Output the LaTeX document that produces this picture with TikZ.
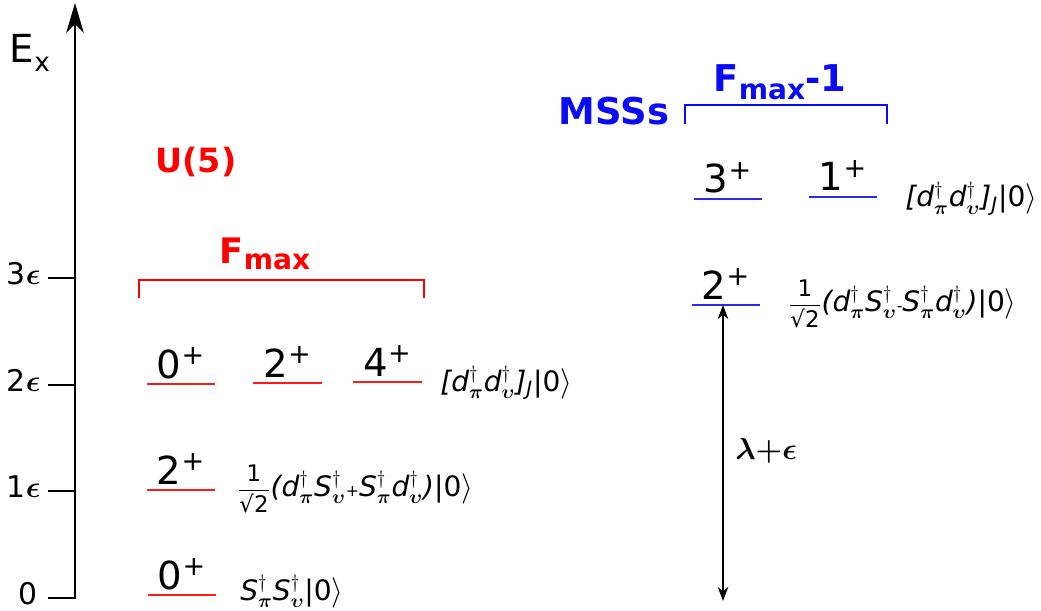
\documentclass[tikz,border=0pt]{standalone}
\usepackage{amsmath,amssymb}
\usepackage{fontspec}
\setmainfont{DejaVu Sans}
\usepackage{tikz}
\usetikzlibrary{arrows.meta,positioning}
\definecolor{lvlred}{HTML}{FF1A1A}
\definecolor{lvlblue}{HTML}{2A2AF0}
\definecolor{hdblue}{HTML}{0A0AF5}
\newcommand{\halfroot}{{\fontsize{13}{15}\selectfont\upshape$\dfrac{\text{1}}{\text{√2}}$}}

\begin{document}
\begin{tikzpicture}[x=0.02cm,y=-0.02cm,
  level/.style={line width=1.1pt},
  spin/.style={font=\fontsize{22}{26}\selectfont,inner sep=0pt,anchor=base},
  wave/.style={font=\fontsize{16}{19}\selectfont\itshape,inner sep=0pt,anchor=base west},
  ticklab/.style={font=\fontsize{17}{20}\selectfont,inner sep=0pt,anchor=base east},
  head/.style={font=\fontsize{20}{24}\selectfont\bfseries,inner sep=0pt,anchor=base}]
  \useasboundingbox (0,0) rectangle (1041,611);
  % energy axis with ticks
  \draw[-{Stealth[length=17pt,width=10pt,inset=5pt]},line width=0.9pt] (48,598) -- (75,598) -- (75,3);
  \foreach \yy/\lab/\nm in {491/1/t1,385/2/t2,278/3/t3}{\draw[line width=0.8pt] (48,\yy) -- (75,\yy); \node[ticklab] (\nm) at (41,\yy+6) {\lab$\boldsymbol{\epsilon}$};}
  \node[ticklab] (t0) at (38,604) {0};
  \node[font=\fontsize{22}{26}\selectfont,inner sep=0pt,anchor=base] (ex) at (30,63) {E\raisebox{-0.4ex}{\fontsize{15}{18}\selectfont x}};
  % U(5) levels
  \node[head,text=red,font=\fontsize{19}{23}\selectfont\bfseries] (u5) at (196,173) {U(5)};
  \node[head,text=red] (fmax) at (265,263) {F\raisebox{-0.35ex}{\fontsize{16}{19}\selectfont max}};
  \draw[red,line width=0.9pt] (139,298) |- (424,280) -- (424,298);
  \foreach \xa/\xb/\yy/\jj/\nm in {147/215/384/0/a0,253/322/383/2/a2,353/422/382/4/a4,147/215/490/2/b2,148/216/595/0/c0}{
    \draw[lvlred,level] (\xa,\yy) -- (\xb,\yy);
    \node[spin] (\nm) at ({(\xa+\xb)/2},\yy-6) {\jj\textsuperscript{+}};
  }
  \node[wave] (wa) at (440,391) {[d$^{\dagger}_{\boldsymbol{\pi}}$d$^{\dagger}_{\boldsymbol{\upsilon}}$]$_{\textit{J}}$\upshape|0$\rangle$};
  \node[wave] (wb) at (237,496) {\halfroot(d$^{\dagger}_{\boldsymbol{\pi}}$S$^{\dagger}_{\boldsymbol{\upsilon}}$\upshape{\small+}\itshape S$^{\dagger}_{\boldsymbol{\pi}}$d$^{\dagger}_{\boldsymbol{\upsilon}}$)\upshape|0$\rangle$};
  \node[wave] (wc) at (240,600) {S$^{\dagger}_{\boldsymbol{\pi}}$S$^{\dagger}_{\boldsymbol{\upsilon}}$\upshape|0$\rangle$};
  % MSSs levels
  \node[head,text=hdblue,font=\fontsize{21}{25}\selectfont\bfseries] (msss) at (614,125) {MSSs};
  \node[head,text=hdblue,font=\fontsize{21}{25}\selectfont\bfseries] (fmaxm) at (780,92) {F\raisebox{-0.35ex}{\fontsize{16}{19}\selectfont max}-1};
  \draw[hdblue,line width=0.9pt] (685,124) |- (887,105) -- (887,124);
  \foreach \xa/\xb/\yy/\jj/\nm in {694/762/199/3/m3,809/877/197/1/m1,692/760/305/2/m2}{
    \draw[lvlblue,level] (\xa,\yy) -- (\xb,\yy);
    \node[spin] (\nm) at ({(\xa+\xb)/2},\yy-6) {\jj\textsuperscript{+}};
  }
  \node[wave] (wd) at (905,207) {[d$^{\dagger}_{\boldsymbol{\pi}}$d$^{\dagger}_{\boldsymbol{\upsilon}}$]$_{\textit{J}}$\upshape|0$\rangle$};
  \node[wave] (we) at (788,311) {\halfroot(d$^{\dagger}_{\boldsymbol{\pi}}$S$^{\dagger}_{\boldsymbol{\upsilon}}$\upshape{\small-}\itshape S$^{\dagger}_{\boldsymbol{\pi}}$d$^{\dagger}_{\boldsymbol{\upsilon}}$)\upshape|0$\rangle$};
  % gap between the two ground states
  \coordinate (gtop) at (723,305);
  \coordinate (gbot) at (723,601);
  \draw[{Stealth[length=8pt,width=6pt,inset=2.5pt]}-{Stealth[length=8pt,width=6pt,inset=2.5pt]},line width=0.7pt] (gtop) -- (gbot);
  \node[font=\fontsize{16}{19}\selectfont,inner sep=0pt,anchor=base west] (gap) at (735,459) {$\boldsymbol{\lambda{+}\epsilon}$};
\end{tikzpicture}
\end{document}
